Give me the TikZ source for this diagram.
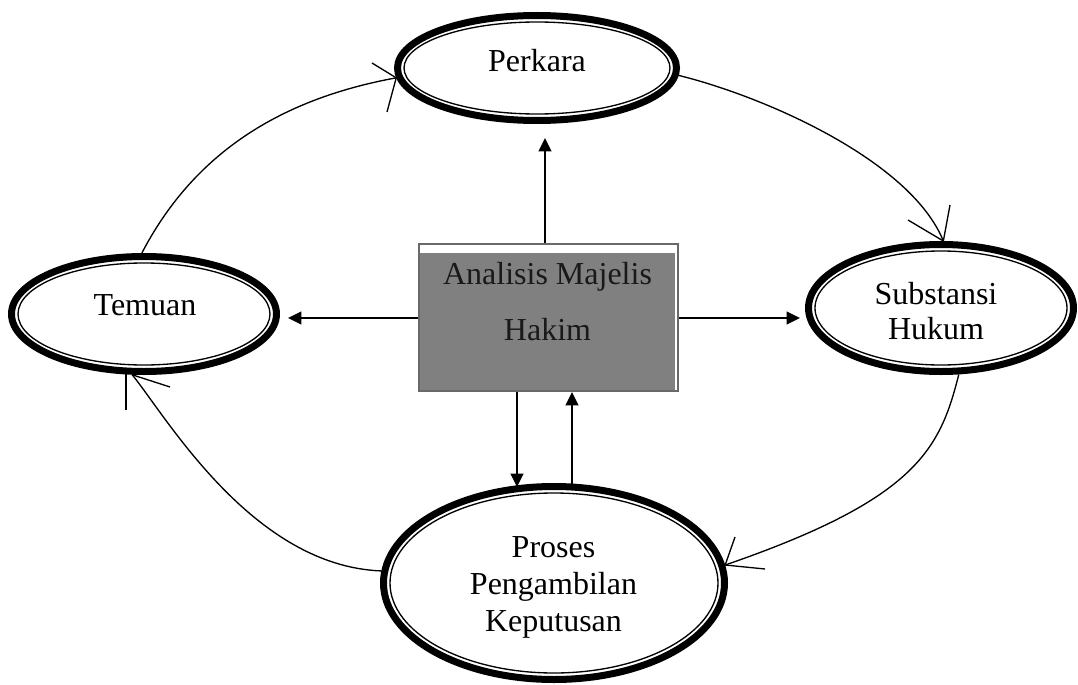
\documentclass[tikz,border=0pt]{standalone}
\usepackage{fontspec}
\setmainfont{Liberation Serif}
\usetikzlibrary{shapes.geometric,arrows.meta}
\definecolor{boxedge}{RGB}{105,105,105}
\definecolor{boxfill}{RGB}{128,128,128}
\definecolor{txtdark}{RGB}{25,25,25}
\begin{document}
\begin{tikzpicture}[x=0.75pt,y=-0.75pt,
  ell/.style={ellipse,draw=black,line width=5.25pt,inner sep=0pt,fill=white},
  innerell/.style={line width=1pt},
  cyc/.style={line width=1pt},
  barb/.style={line width=1pt},
  arr/.style={line width=1.5pt,-{Triangle[length=10pt,width=9.5pt]}},
  lbl/.style={inner sep=0pt,align=center,text=black}
]
\useasboundingbox (0,0) rectangle (1078,685);

% ellipses
\node[ell,minimum width=209.25pt,minimum height=78.75pt] (perk) at (537,68) {};
\draw[innerell] (perk.center) ellipse [x radius=99.75pt, y radius=34.5pt];

\node[ell,minimum width=198.75pt,minimum height=86.25pt] (tem) at (144,314) {};
\draw[innerell] (tem.center) ellipse [x radius=94.5pt, y radius=38.25pt];

\node[ell,minimum width=198.75pt,minimum height=95.25pt] (subst) at (941,308) {};
\draw[innerell] (subst.center) ellipse [x radius=94.5pt, y radius=42.75pt];

\node[ell,minimum width=255.75pt,minimum height=144.75pt] (pros) at (554,583) {};
\draw[innerell] (pros.center) ellipse [x radius=123pt, y radius=67.5pt];

% labels
\node[lbl,anchor=base,font=\fontsize{24}{28}\selectfont] (tperk) at (537,72) {Perkara};
\node[lbl,anchor=base,font=\fontsize{24}{28}\selectfont] (ttem) at (145,315) {Temuan};
\node[lbl,font=\fontsize{24}{26.25}\selectfont] (tsubst) at (936,311.5) {Substansi\\Hukum};
\node[lbl,font=\fontsize{24}{28}\selectfont] (tpros) at (553.5,587.5) {Proses\\Pengambilan\\Keputusan};

% central box
\node[draw=boxedge,line width=1.5pt,fill=white,inner sep=0pt,
      minimum width=194.25pt,minimum height=110.25pt,
      path picture={\fill[boxfill] ([xshift=0.5pt,yshift=0.5pt]path picture bounding box.south west)
         rectangle ([xshift=-2.5pt,yshift=-7pt]path picture bounding box.north east);}]
      (box) at (548.5,317.5) {};
\node[lbl,text=txtdark,font=\fontsize{24}{42}\selectfont] (tbox) at (547.5,302) {Analisis Majelis\\Hakim};

% straight arrows
\coordinate (upT) at (545,138);
\coordinate (leftT) at (288,318);
\coordinate (rightT) at (800,318);
\coordinate (downT) at (517,487);
\coordinate (upS) at (572,484);
\draw[arr] (box.north -| upT) -- (upT);
\draw[arr] (box.west |- leftT) -- (leftT);
\draw[arr] (box.east |- rightT) -- (rightT);
\draw[arr] (box.south -| downT) -- (downT);
\draw[arr] (upS) -- (box.south -| upS);

% cycle curves
\draw[cyc] (tem.92) .. controls (192,157) and (275,100) .. (perk.184);
\draw[cyc] (perk.-3) .. controls (766,97) and (911,161) .. (subst.88);
\draw[cyc] (subst.-75) .. controls (940,449) and (917,499) .. (pros.6);
\draw[cyc] (pros.176) .. controls (252,566) and (166,416) .. (tem.259);

% open barbs
\coordinate (pb1) at (372,63);
\coordinate (pb2) at (387,112);
\draw[barb] (perk.184) -- (pb1);
\draw[barb] (perk.184) -- (pb2);
\coordinate (sb1) at (908,220);
\coordinate (sb2) at (950,205);
\draw[barb] (subst.88) -- (sb1);
\draw[barb] (subst.88) -- (sb2);
\coordinate (rb1) at (735,537);
\coordinate (rb2) at (765,569);
\draw[barb] (pros.6) -- (rb1);
\draw[barb] (pros.6) -- (rb2);
\coordinate (tb1) at (170,387);
\coordinate (tv1) at (126,374);
\coordinate (tv2) at (126,410);
\draw[barb] (tem.259) -- (tb1);
\draw[line width=2.2pt] (tv1) -- (tv2);
\end{tikzpicture}
\end{document}
